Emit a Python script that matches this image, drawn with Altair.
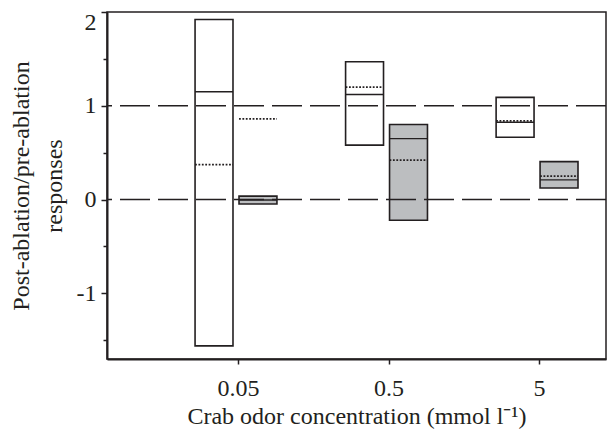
import altair as alt
import pandas as pd

# Categories (x) and groups
concentrations = ["0.05", "0.5", "5"]
box_conc = ["0.05", "0.05", "0.5", "0.5", "5", "5"]
box_group = ["open", "filled", "open", "filled", "open", "filled"]

# Box statistics
box_top = [1.92, 0.037, 1.47, 0.80, 1.09, 0.405]
box_bottom = [-1.56, -0.047, 0.58, -0.22, 0.665, 0.124]
box_median = [1.15, -0.005, 1.12, 0.65, 0.825, 0.21]
box_mean = [0.373, 0.86, 1.20, 0.42, 0.84, 0.25]

ref_lines = [0, 1]
y_tick_values = [-1.5, -1, -0.5, 0, 0.5, 1, 1.5, 2]

DARK = "#231f20"
GRAY = "#bcbec0"
FONT = "Liberation Serif"
FS = 24

boxes = pd.DataFrame({
    "conc": box_conc,
    "group": box_group,
    "top": box_top,
    "bottom": box_bottom,
    "median": box_median,
    "mean": box_mean,
})
refs = pd.DataFrame({"y": ref_lines})

conc_expr = "indexof(" + str(concentrations).replace("'", '"') + ", datum.conc)"
label_expr = str(concentrations) + "[datum.value]"

xscale = alt.Scale(domain=[-0.857, 2.458], nice=False, zero=False)
yscale = alt.Scale(domain=[-1.7, 2.0], nice=False, zero=False)

xaxis = alt.Axis(
    values=[0, 1, 2], labelExpr=label_expr, title="Crab odor concentration (mmol l\u207b\u00b9)",
    grid=False, tickSize=5, tickOffset=2, labelPadding=12, titlePadding=4,
)
yaxis = alt.Axis(
    values=y_tick_values,
    labelExpr="datum.value % 1 == 0 ? toString(datum.value) : ''",
    title=["Post-ablation/pre-ablation", "responses"],
    titleLineHeight=33,
    grid=False,
    tickSize={"condition": {"test": "datum.value % 1 == 0", "value": 6}, "value": 4},
    labelOffset={"condition": {"test": "datum.value == 2", "value": 10}, "value": 0},
    labelPadding=5, titlePadding=10,
)

base = alt.Chart(boxes).transform_calculate(
    idx=conc_expr,
).transform_calculate(
    center="datum.idx + (datum.group == 'open' ? -0.146 : 0.146)",
).transform_calculate(
    xl="datum.center - 0.126",
    xr="datum.center + 0.126",
)

rects = base.mark_rect(stroke=DARK, strokeWidth=1.6).encode(
    x=alt.X("xl:Q", scale=xscale, axis=xaxis),
    x2="xr:Q",
    y=alt.Y("bottom:Q", scale=yscale, axis=yaxis),
    y2="top:Q",
    fill=alt.Fill("group:N", scale=alt.Scale(domain=["open", "filled"], range=["white", GRAY]), legend=None),
)

medians = base.mark_rule(color=DARK, strokeWidth=1.4).encode(
    x=alt.X("xl:Q", scale=xscale), x2="xr:Q", y=alt.Y("median:Q", scale=yscale),
)

means = base.mark_rule(color=DARK, strokeWidth=1.8, strokeDash=[1.8, 1.6]).encode(
    x=alt.X("xl:Q", scale=xscale), x2="xr:Q", y=alt.Y("mean:Q", scale=yscale),
)

reflines = alt.Chart(refs).mark_rule(color=DARK, strokeWidth=1.5, strokeDash=[30, 8]).encode(
    y=alt.Y("y:Q", scale=yscale),
)

chart = alt.layer(rects, medians, means, reflines).properties(
    width=499, height=347,
    autosize=alt.AutoSizeParams(type="none"),
    padding={"left": 99, "top": 4, "right": 1, "bottom": 70},
).configure_view(
    stroke=DARK, strokeWidth=1.5,
).configure_axis(
    domainColor=DARK, domainWidth=2, tickColor=DARK, tickWidth=1.5,
    labelFont=FONT, labelFontSize=FS, labelColor=DARK,
    titleFont=FONT, titleFontSize=FS, titleColor=DARK, titleFontWeight="normal",
)

chart.save("out.html", embed_options={"renderer": "svg", "actions": False})
